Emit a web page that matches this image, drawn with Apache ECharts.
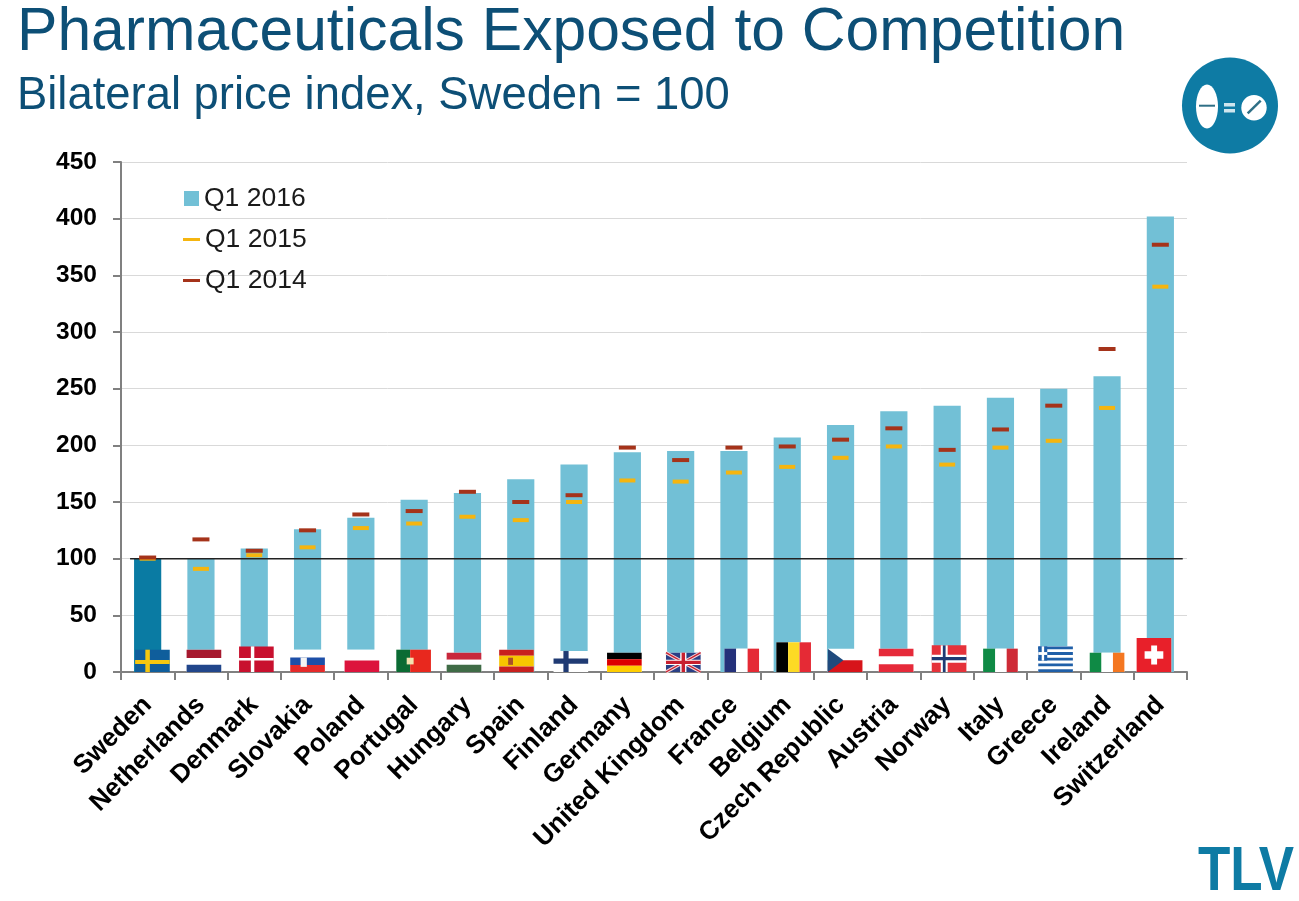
<!DOCTYPE html>
<html><head><meta charset="utf-8">
<style>html,body{margin:0;padding:0;background:#fff}#c{width:1299px;height:901px}</style>
<script src="https://cdn.jsdelivr.net/npm/echarts@6/dist/echarts.min.js"></script>
</head><body><div id="c"></div>
<script>
const categories = ['Sweden','Netherlands','Denmark','Slovakia','Poland','Portugal','Hungary','Spain','Finland','Germany','United Kingdom','France','Belgium','Czech Republic','Austria','Norway','Italy','Greece','Ireland','Switzerland'];
const q12016 = [100,100,109,126,136,152,158,170,183,194,195,195,207,218,230,235,242,250,261,402];
const q12015 = [100,91,103,110,127,131,137,134,150,169,168,176,181,189,199,183,198,204,233,340];
const q12014 = [101,117,107,125,139,142,159,150,156,198,187,198,199,205,215,196,214,235,285,377];
const yTicks = [0,50,100,150,200,250,300,350,400,450];
const referenceLevel = [100];
const flagHeights = [19.7,19.7,22.6,19.7,19.7,19.7,17,19.7,18.5,17,17,20.6,26.2,20.6,20.6,23.5,20.6,22.6,17,30];
// flag horizontal shift from the band centre, as a share of the band
const flagShift = [.09,.056,.04,0,.02,-.01,-.065,-.08,-.06,-.056,.05,.146,.12,.086,.043,.036,0,.034,0,-.12];

const FONT = '"Liberation Sans", Arial, sans-serif';
const stripes = (cols, fr, extra) => ({type:'h', cols, fr, ...extra});
const flags = {
  Sweden:{base:'#0f5e9c',cross:['#f6c70f',.36,.55,.13,.18]},
  Netherlands:stripes(['#a6192e','#fff','#21468b'],[.37,.31,.32]),
  Denmark:{base:'#c8102e',cross:['#fff',.39,.5,.1,.1]},
  Slovakia:stripes(['#fff','#1d4fa8','#e52a2a'],[.35,.34,.31],{emblem:['#f4f4f4',.3,.35,.18,.42]}),
  Poland:stripes(['#fff','#dc143c'],[.48,.52]),
  Portugal:{type:'v',cols:['#0b6b33','#e8281e'],fr:[.4,.6],emblem:['#f2e3b0',.3,.36,.2,.3]},
  Hungary:stripes(['#c8283c','#fff','#3f6b46'],[.36,.26,.38]),
  Spain:stripes(['#c8201e','#f7c600','#c8201e'],[.27,.48,.25],{emblem:['#a8502a',.26,.36,.14,.32]}),
  Finland:{base:'#fff',cross:['#1f3a73',.36,.48,.15,.25]},
  Germany:stripes(['#000','#dd0000','#ffce00'],[.34,.33,.33]),
  'United Kingdom':{type:'uk'},
  France:{type:'v',cols:['#24317a','#fff','#e52a35'],fr:[.34,.33,.33]},
  Belgium:{type:'v',cols:['#000','#fdda24','#e52a35'],fr:[.34,.33,.33]},
  'Czech Republic':{type:'cz'},
  Austria:stripes(['#e62a3a','#fff','#e62a3a'],[.34,.33,.33]),
  Norway:{base:'#e5323a',cross:['#fff',.36,.5,.2,.3],cross2:['#1f3a73',.36,.5,.08,.12]},
  Italy:{type:'v',cols:['#0f8a45','#fff','#ce2b37'],fr:[.35,.33,.32]},
  Greece:{type:'gr'},
  Ireland:{type:'v',cols:['#0f8a45','#fff','#f47721'],fr:[.34,.33,.33]},
  Switzerland:{type:'ch'}
};
function rect(x,y,w,h,fill){return {type:'rect',shape:{x,y,width:w,height:h},style:{fill},silent:true};}
function flagShapes(f,x,y,w,h){
  const out=[rect(x,y,w,h,f.base||'#fff')];
  const add=(r)=>out.push(r);
  if(f.type==='h'){let a=y;f.cols.forEach((c,i)=>{const d=f.fr[i]*h;add(rect(x,a,w,d,c));a+=d;});}
  if(f.type==='v'){let a=x;f.cols.forEach((c,i)=>{const d=f.fr[i]*w;add(rect(a,y,d,h,c));a+=d;});}
  [f.cross,f.cross2].forEach(c=>{ if(!c) return;
    const cw=c[3]*w, ch=c[4]*h;
    add(rect(x+c[1]*w-cw/2,y,cw,h,c[0]));
    add(rect(x,y+c[2]*h-ch/2,w,ch,c[0]));
  });
  if(f.emblem){const e=f.emblem;add(rect(x+e[1]*w,y+e[2]*h,e[3]*w,e[4]*h,e[0]));}
  if(f.type==='cz'){
    add(rect(x,y+h/2,w,h/2,'#d7141a'));
    add({type:'polygon',shape:{points:[[x,y],[x+w*.45,y+h/2],[x,y+h]]},style:{fill:'#1f4a7d'},silent:true});
  }
  if(f.type==='gr'){
    add(rect(x,y,w,h,'#fff'));
    for(let i=0;i<5;i++) add(rect(x,y+i*2*h/9,w,h/9,'#1f5fa8'));
    add(rect(x,y,w*.26,h*5/9,'#1f5fa8'));
    add(rect(x+w*.1,y,w*.07,h*5/9,'#fff'));
    add(rect(x,y+h*2/9,w*.26,h/9,'#fff'));
  }
  if(f.type==='ch'){
    add(rect(x,y,w,h,'#e8202a'));
    add(rect(x+w*.42,y+h*.22,w*.17,h*.56,'#fff'));
    add(rect(x+w*.23,y+h*.39,w*.54,h*.22,'#fff'));
  }
  if(f.type==='uk'){
    add(rect(x,y,w,h,'#2a3f85'));
    const l=(p,lw,c)=>add({type:'line',shape:{x1:p[0],y1:p[1],x2:p[2],y2:p[3]},style:{stroke:c,lineWidth:lw},silent:true});
    l([x,y,x+w,y+h],3.5,'#f4d5d8'); l([x+w,y,x,y+h],3.5,'#f4d5d8');
    l([x,y,x+w,y+h],1.4,'#c8202f'); l([x+w,y,x,y+h],1.4,'#c8202f');
    add(rect(x+w*.41,y,w*.18,h,'#fff')); add(rect(x,y+h*.36,w,h*.28,'#fff'));
    add(rect(x+w*.45,y,w*.1,h,'#c8202f')); add(rect(x,y+h*.42,w,h*.16,'#c8202f'));
  }
  return out;
}
const chart = echarts.init(document.getElementById('c'),null,{renderer:'canvas'});
const tickStyle = {show:true,length:8,lineStyle:{color:'#808080',width:2}};
const legendText = {fontFamily:FONT,fontSize:26.5,color:'#1a1a1a'};
chart.setOption({
  animation:false,
  backgroundColor:'#fff',
  textStyle:{fontFamily:FONT},
  grid:{left:121,right:112,top:162,bottom:229},
  title:[
    {text:'Pharmaceuticals Exposed to Competition',left:12,top:-2,textStyle:{fontFamily:FONT,fontSize:60.6,fontWeight:'normal',color:'#0d4f76'}},
    {text:'Bilateral price index, Sweden = 100',left:12,top:69,textStyle:{fontFamily:FONT,fontSize:45.4,fontWeight:'normal',color:'#0d4f76'}}
  ],
  legend:[
    {data:[{name:'Q1 2016',icon:'rect'}],left:184,top:185,itemWidth:15,itemHeight:15,itemGap:5,textStyle:legendText,padding:0,selectedMode:false},
    {data:[{name:'Q1 2015',icon:'rect'}],left:183,top:226,itemWidth:17,itemHeight:3,itemGap:3,textStyle:legendText,padding:0,selectedMode:false},
    {data:[{name:'Q1 2014',icon:'rect'}],left:183,top:267,itemWidth:17,itemHeight:3,itemGap:3,textStyle:legendText,padding:0,selectedMode:false}
  ],
  xAxis:{type:'category',data:categories,
    axisLine:{lineStyle:{color:'#808080',width:2}},
    axisTick:{...tickStyle,alignWithLabel:false},
    axisLabel:{interval:0,rotate:45,margin:29,fontFamily:FONT,fontSize:26,fontWeight:'bold',color:'#000'}},
  yAxis:{type:'value',min:yTicks[0],max:yTicks[yTicks.length-1],interval:yTicks[1]-yTicks[0],
    axisLine:{show:true,lineStyle:{color:'#808080',width:2}},
    axisTick:tickStyle,
    axisLabel:{margin:24,fontFamily:FONT,fontSize:24.5,fontWeight:'bold',color:'#000'},
    splitLine:{lineStyle:{color:'#d9d9d9',width:1}}},
  series:[
    {name:'Q1 2016',type:'bar',barWidth:'51%',
     data:q12016.map((v,i)=>i===0?{value:v,itemStyle:{color:'#0a7ba3'}}:v),
     itemStyle:{color:'#72c0d6'},z:2},
    {name:'flags',type:'custom',z:3,silent:true,
     data:flagHeights.map((h,i)=>[i,h]),
     encode:{x:0,y:1},
     renderItem(p,api){
       const i=api.value(0),top=api.coord([i,api.value(1)]),base=api.coord([i,0]);
       const band=api.size([1,0])[0],w=band*.65;
       const x=top[0]-w/2+flagShift[i]*band;
       return {type:'group',children:flagShapes(flags[categories[i]],x,top[1],w,base[1]-top[1])};
     }},
    {name:'reference',type:'custom',z:4,silent:true,
     data:referenceLevel.map(v=>[0,v]),
     encode:{x:0,y:1},
     renderItem(p,api){
       const a=api.coord([0,api.value(1)]),b=api.coord([categories.length-1,api.value(1)]),band=api.size([1,0])[0];
       return {type:'line',shape:{x1:a[0]-band*.33,y1:a[1],x2:b[0]+band*.42,y2:b[1]},style:{stroke:'#222',lineWidth:1.5},silent:true};
     }},
    {name:'Q1 2015',type:'scatter',symbol:'rect',symbolSize:[16,4],data:q12015,itemStyle:{color:'#f5b50f',opacity:1},z:5},
    {name:'Q1 2014',type:'scatter',symbol:'rect',symbolSize:[17,4],data:q12014,itemStyle:{color:'#a5331a',opacity:1},z:5}
  ],
  graphic:[
    {type:'circle',shape:{cx:1230,cy:105.5,r:48},style:{fill:'#0e7ba4'}},
    {type:'ellipse',shape:{cx:1207,cy:106.5,rx:11,ry:22},style:{fill:'#fff'}},
    {type:'line',shape:{x1:1199,y1:105.7,x2:1215,y2:105.7},style:{stroke:'#2f6f86',lineWidth:2}},
    {type:'rect',shape:{x:1224,y:103,width:11,height:3.5},style:{fill:'#cfe6ee'}},
    {type:'rect',shape:{x:1224,y:109,width:11,height:3.5},style:{fill:'#cfe6ee'}},
    {type:'circle',shape:{cx:1254,cy:107.7,r:12.7},style:{fill:'#fff'}},
    {type:'line',shape:{x1:1247.7,y1:113.3,x2:1260.7,y2:100.7},style:{stroke:'#2f6f86',lineWidth:2.5}},
    {type:'text',x:1198,y:841,scaleX:.84,style:{x:0,y:0,text:'TLV',fontFamily:FONT,fontSize:63,fontWeight:'bold',fill:'#0e7ba4'}}
  ]
});
</script></body></html>
